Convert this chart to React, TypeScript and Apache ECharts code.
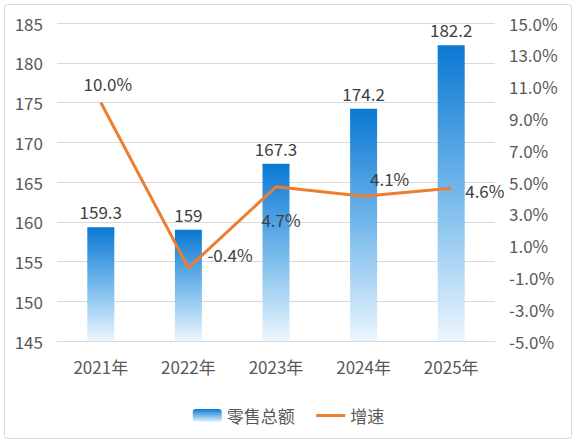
import React, { useEffect, useRef } from "react";
import * as echarts from "echarts";

const categories = ["2021年", "2022年", "2023年", "2024年", "2025年"];
const retailTotal = [159.3, 159, 167.3, 174.2, 182.2];
const growthRate = [10.0, -0.4, 4.7, 4.1, 4.6];
const leftMin = 145;
const leftMax = 185;
const leftInterval = 5;
const rightMin = -5;
const rightMax = 15;
const rightInterval = 2;

export default function App() {
  const ref = useRef<HTMLDivElement>(null);
  useEffect(() => {
    const chart = echarts.init(ref.current!, null, { renderer: "svg" });
    const font = '"Noto Sans CJK SC", "Microsoft YaHei", sans-serif';
    const shift = -rightMin; // so the right axis' ticks start from 0
    const lineLabelPlacement: any[] = [
      { position: "top", distance: 11, offset: [7, 0] },
      { position: "right", distance: 5, offset: [14, -13] },
      { position: "bottom", distance: 24, offset: [5, 0] },
      { position: "top", distance: 9, offset: [26, 0] },
      { position: "right", distance: 14, offset: [0, 2] },
    ];
    chart.setOption({
      animation: false,
      textStyle: { fontFamily: font },
      graphic: [
        {
          type: "rect",
          shape: { x: 4.5, y: 4.5, width: 567, height: 434, r: 3 },
          style: { fill: "none", stroke: "#d9d9d9", lineWidth: 1 },
          silent: true,
        },
      ],
      grid: { left: 57, right: 82, top: 23, bottom: 103 },
      legend: {
        left: "center",
        top: 402,
        itemGap: 20,
        itemWidth: 29,
        itemHeight: 13,
        textStyle: { fontSize: 17, color: "#595959", fontFamily: font },
        data: [
          { name: "零售总额" },
          { name: "增速", itemStyle: { opacity: 0 }, lineStyle: { width: 3, color: "#ed7d31" } },
        ],
      },
      xAxis: {
        type: "category",
        data: categories,
        axisLine: { lineStyle: { color: "#d9d9d9" } },
        axisTick: { show: false },
        axisLabel: { fontSize: 17, color: "#595959", margin: 17, fontFamily: font },
      },
      yAxis: [
        {
          type: "value",
          min: leftMin,
          max: leftMax,
          interval: leftInterval,
          axisLine: { show: false },
          axisTick: { show: false },
          splitLine: { lineStyle: { color: "#d9d9d9" } },
          axisLabel: { fontSize: 17, color: "#595959", margin: 14, fontFamily: font },
        },
        {
          type: "value",
          min: rightMin + shift,
          max: rightMax + shift,
          interval: rightInterval,
          axisLine: { show: false },
          axisTick: { show: false },
          splitLine: { show: false },
          axisLabel: {
            fontSize: 17,
            color: "#595959",
            margin: 14,
            fontFamily: font,
            formatter: (v: number) => (v - shift).toFixed(1) + "%",
          },
        },
      ],
      series: [
        {
          name: "零售总额",
          type: "bar",
          barWidth: 27,
          data: retailTotal,
          itemStyle: {
            color: new echarts.graphic.LinearGradient(0, 0, 0, 1, [
              { offset: 0, color: "#0a78d2" },
              { offset: 0.5, color: "#74b8eb" },
              { offset: 1, color: "#ecf6fe" },
            ]),
          },
          label: {
            show: true,
            position: "top",
            distance: 7,
            fontSize: 17,
            color: "#404040",
            fontFamily: font,
          },
        },
        {
          name: "增速",
          type: "line",
          yAxisIndex: 1,
          symbol: "circle",
          symbolSize: 0.01,
          showSymbol: true,
          z: 5,
          lineStyle: { color: "#ed7d31", width: 3 },
          itemStyle: { color: "#ed7d31" },
          data: growthRate.map((g, i) => ({
            value: g + shift,
            label: {
              show: true,
              fontSize: 17,
              color: "#404040",
              fontFamily: font,
              formatter: () => growthRate[i].toFixed(1) + "%",
              ...lineLabelPlacement[i],
            },
          })),
        },
      ],
    });
    return () => chart.dispose();
  }, []);
  return (
    <div
      ref={ref}
      style={{ position: "fixed", left: 0, top: 0, width: 577, height: 444, background: "#fff" }}
    />
  );
}
